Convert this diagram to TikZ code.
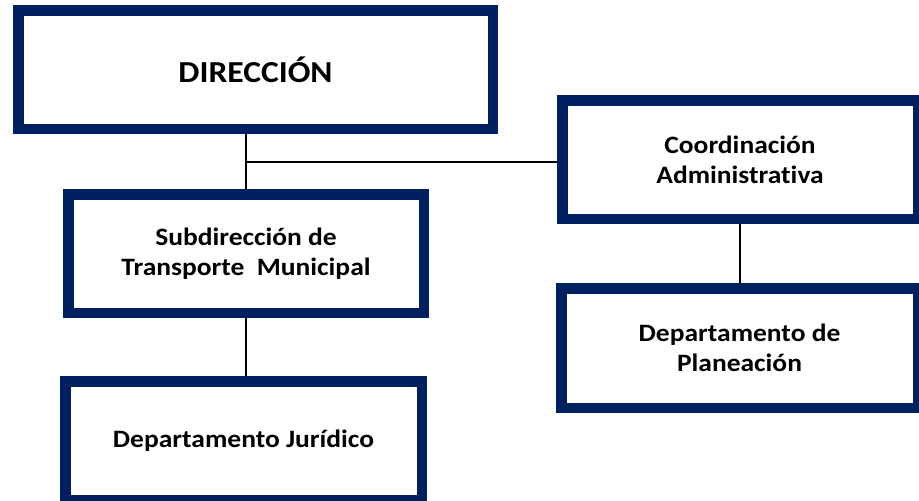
\documentclass[tikz,border=0pt]{standalone}
\usepackage{fontspec}
\setmainfont{Carlito}[FakeStretch=1.1,Ligatures=NoCommon]
\definecolor{azulmarino}{HTML}{002060}

\begin{document}
\begin{tikzpicture}[x=1pt,y=-1pt,
    caja/.style={draw=azulmarino,line width=10.5pt,fill=white,align=center,
      inner sep=0pt,font=\bfseries\fontsize{25}{30}\selectfont},
    linea/.style={black,line width=1.3pt}]
        \useasboundingbox (0,0) rectangle (919,501);

        % Direccion
        \node[caja,minimum width=474.5pt,minimum height=118.5pt,
          font=\bfseries\fontsize{30.5}{36}\selectfont] (dir) at (255.5,69.5) {DIRECCIÓN};

        % Coordinacion a la derecha
        \node[caja,minimum width=355.5pt,minimum height=118.5pt] (coord) at (740,159.5)
          {Coordinación\\Administrativa};
        \node[caja,minimum width=356.5pt,minimum height=119.5pt] (plan) at (739.5,348)
          {Departamento de\\Planeación};

        % Subdireccion y juridico
        \node[caja,minimum width=355.5pt,minimum height=118.5pt] (sub) at (246,253.5)
          {Subdirección de\\Transporte\ \ Municipal};
        \node[caja,minimum width=356.5pt,minimum height=118.5pt] (jur) at (243.5,440.5)
          {Departamento Jurídico};

        \draw[linea] (dir.south -| sub.north) -- (sub.north);
        \draw[linea] (sub.north |- 0,162) -- (coord.west |- 0,162);
        \draw[linea] (coord.south) -- (coord.south |- plan.north);
        \draw[linea] (sub.south) -- (sub.south |- jur.north);
      \end{tikzpicture}
\end{document}
